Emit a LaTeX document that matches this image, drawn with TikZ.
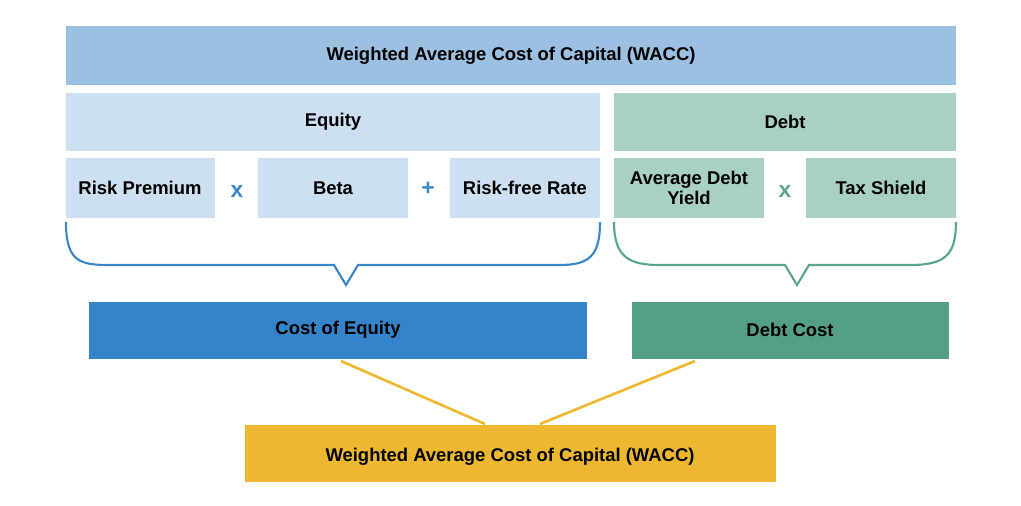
\documentclass[tikz,border=0pt]{standalone}
\usepackage{fontspec}
\setmainfont{Liberation Sans}
\definecolor{topb}{HTML}{9BC0E2}
\definecolor{lb}{HTML}{CCE0F1}
\definecolor{lg}{HTML}{A9D0C5}
\definecolor{db}{HTML}{3584C9}
\definecolor{dg}{HTML}{559F88}
\definecolor{yl}{HTML}{EDB830}
\definecolor{bl}{HTML}{3A86C8}
\definecolor{gl}{HTML}{5AA38D}
\begin{document}
\begin{tikzpicture}[x=0.02cm,y=-0.02cm,
  box/.style={inner sep=0pt,align=center,font=\fontsize{10.5}{11.5}\selectfont\bfseries},
  op/.style={font=\fontsize{13}{14}\selectfont\bfseries}]
\useasboundingbox (0,0) rectangle (1021,505);
\newcommand\bx[6]{\fill[#5] (#2,#3) rectangle (#4,#6); \node[box] (#1) at ({(#2+#4)/2},{(#3+#6)/2}) {};}
\fill[topb] (66,26) rectangle (956,85); \node[box] (top) at (511,56) {Weighted Average Cost of Capital (WACC)};
\fill[lb] (66,93) rectangle (600,151); \node[box] (eq) at (333,122) {Equity};
\fill[lg] (614,93) rectangle (956,151); \node[box] (debt) at (785,122) {Debt};
\fill[lb] (66,158) rectangle (215,218); \node[box] (rp) at (140,188) {Risk Premium};
\fill[lb] (258,158) rectangle (408,218); \node[box] (beta) at (333,188) {Beta};
\fill[lb] (450,158) rectangle (600,218); \node[box] (rf) at (525,188) {Risk-free Rate};
\fill[lg] (614,158) rectangle (764,218); \node[box] (ady) at (689,188) {Average Debt\\Yield};
\fill[lg] (806,158) rectangle (956,218); \node[box] (ts) at (881,188) {Tax Shield};
\node[op,text=bl] (x1) at (237,191) {x};
\node[op,text=bl] (p1) at (428,189) {+};
\node[op,text=gl] (x2) at (785,191) {x};
\draw[bl,line width=1.2pt,rounded corners=0pt] (66,222) .. controls (66,262) and (80,265) .. (110,265) -- (334,265) -- (346,285) -- (358,265) -- (560,265) .. controls (590,265) and (600,255) .. (600,222);
\draw[gl,line width=1.2pt] (614,222) .. controls (614,258) and (630,265) .. (660,265) -- (785,265) -- (797,285) -- (809,265) -- (910,265) .. controls (945,265) and (956,255) .. (956,222);
\fill[db] (89,302) rectangle (587,359); \node[box] (coe) at (338,330) {Cost of Equity};
\fill[dg] (632,302) rectangle (949,359); \node[box] (dc) at (790,330) {Debt Cost};
\fill[yl] (245,425) rectangle (776,482); \node[box] (w) at (510,457) {Weighted Average Cost of Capital (WACC)};
\coordinate (a1) at (341,361); \coordinate (a2) at (485,424);
\coordinate (b1) at (695,361); \coordinate (b2) at (540,424);
\draw[yl,line width=1.5pt] (a1) -- (a2) (b1) -- (b2);
\end{tikzpicture}
\end{document}
